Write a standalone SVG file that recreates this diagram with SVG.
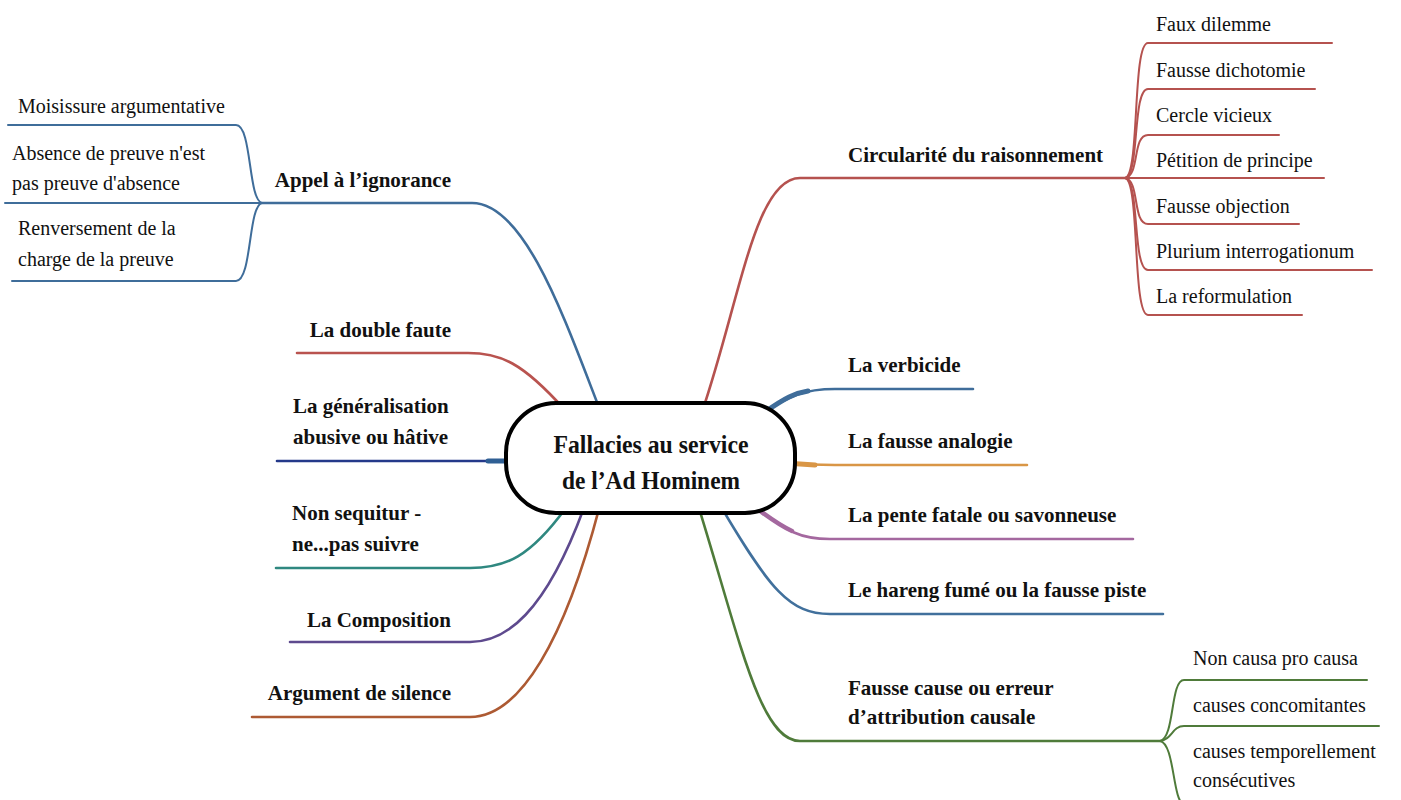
<svg xmlns="http://www.w3.org/2000/svg" width="1401" height="800" viewBox="0 0 1401 800">
<style>
.main{font-family:"Liberation Serif",serif;font-weight:bold;font-size:21px;fill:#111}
.sub{font-family:"Liberation Serif",serif;font-size:20px;fill:#111}
.ctr{font-family:"Liberation Serif",serif;font-weight:bold;font-size:26px;fill:#111}
.c{fill:none;stroke-linecap:round}
.m{stroke-width:2.6}
.s{stroke-width:2}
</style>
<rect width="1401" height="800" fill="#fff"/>
<g id="connectors">
<!-- left -->
<path class="c m" stroke="#3f6d9a" d="M600,410 C565,320 525,203 472,203 L262,203"/>
<path class="c s" stroke="#3f6d9a" d="M262,203 C248,200 252,125 236,125 L8,125"/>
<path class="c s" stroke="#3f6d9a" d="M262,203 L5,203"/>
<path class="c s" stroke="#3f6d9a" d="M262,203 C248,206 252,281 236,281 L12,281"/>
<path class="c m" stroke="#b9534f" d="M565,410 C522,362 500,353 468,353 L297,353"/>
<path class="c m" stroke="#24398a" d="M520,461 L277,461"/>
<path class="c" stroke="#2f5f94" stroke-width="5" d="M515,461 L488,461"/>
<path class="c m" stroke="#2f8880" d="M568,505 C530,558 505,568 470,568 L276,568"/>
<path class="c m" stroke="#5e4a8e" d="M585,505 C545,615 505,642 470,642 L290,642"/>
<path class="c m" stroke="#ad5a33" d="M600,505 C565,640 520,717 470,717 L252,717"/>
<!-- right -->
<path class="c m" stroke="#b5524f" d="M702,412 C740,300 755,178 800,178 L1125,178"/>
<path class="c s" stroke="#b5524f" d="M1125,178 C1140,176 1132,43 1148,43 L1332,43"/>
<path class="c s" stroke="#b5524f" d="M1125,178 C1140,176 1132,89 1148,89 L1315,89"/>
<path class="c s" stroke="#b5524f" d="M1125,178 C1140,176 1132,135 1148,135 L1279,135"/>
<path class="c s" stroke="#b5524f" d="M1125,178 L1324,178"/>
<path class="c s" stroke="#b5524f" d="M1125,178 C1140,180 1132,224 1148,224 L1299,224"/>
<path class="c s" stroke="#b5524f" d="M1125,178 C1140,180 1132,270 1148,270 L1372,270"/>
<path class="c s" stroke="#b5524f" d="M1125,178 C1140,180 1132,315 1148,315 L1302,315"/>
<path class="c m" stroke="#3f6d9a" d="M760,415 C790,395 805,389 835,389 L973,389"/>
<path class="c" stroke="#3f6d9a" stroke-width="5" d="M765,412 C785,398 795,393 808,391"/>
<path class="c m" stroke="#d99646" d="M785,463 C810,465 820,465 835,465 L1027,465"/>
<path class="c" stroke="#d99646" stroke-width="5" d="M785,463 L815,465"/>
<path class="c m" stroke="#a4689f" d="M752,505 C790,533 800,539 830,539 L1133,539"/>
<path class="c" stroke="#a4689f" stroke-width="4.5" d="M756,508 C770,518 780,526 792,531"/>
<path class="c m" stroke="#41709c" d="M720,505 C770,590 790,614 830,614 L1163,614"/>
<path class="c m" stroke="#4f7b3a" d="M698,505 C740,640 760,741 800,741 L1160,741"/>
<path class="c s" stroke="#4f7b3a" d="M1160,741 C1175,738 1170,680 1184,680 L1367,680"/>
<path class="c s" stroke="#4f7b3a" d="M1160,741 C1172,740 1172,726 1184,726 L1379,726"/>
<path class="c s" stroke="#4f7b3a" d="M1160,741 C1175,744 1172,800 1184,805"/>
</g>
<g id="center">
<rect x="506" y="403" width="289" height="110" rx="50" ry="50" fill="#fff" stroke="#000" stroke-width="4"/>
<text class="ctr" x="651" y="453" text-anchor="middle" textLength="195" lengthAdjust="spacingAndGlyphs">Fallacies au service</text>
<text class="ctr" x="651" y="489" text-anchor="middle" textLength="178" lengthAdjust="spacingAndGlyphs">de l’Ad Hominem</text>
</g>
<g id="appel">
<text class="main" x="451" y="187" text-anchor="end">Appel à l’ignorance</text>
</g>
<g id="moisissure"><text class="sub" x="18" y="113">Moisissure argumentative</text></g>
<g id="absence"><text class="sub" x="12" y="160">Absence de preuve n'est</text><text class="sub" x="12" y="190">pas preuve d'absence</text></g>
<g id="renversement"><text class="sub" x="18" y="235">Renversement de la</text><text class="sub" x="18" y="266">charge de la preuve</text></g>
<g id="double"><text class="main" x="451" y="337" text-anchor="end">La double faute</text></g>
<g id="generalisation"><text class="main" x="293" y="413">La généralisation</text><text class="main" x="293" y="444">abusive ou hâtive</text></g>
<g id="sequitur"><text class="main" x="292" y="520">Non sequitur -</text><text class="main" x="292" y="551">ne...pas suivre</text></g>
<g id="composition"><text class="main" x="451" y="627" text-anchor="end">La Composition</text></g>
<g id="silence"><text class="main" x="451" y="700" text-anchor="end">Argument de silence</text></g>
<g id="circularite"><text class="main" x="848" y="162">Circularité du raisonnement</text></g>
<g id="faux-dilemme"><text class="sub" x="1156" y="31">Faux dilemme</text></g>
<g id="fausse-dichotomie"><text class="sub" x="1156" y="77">Fausse dichotomie</text></g>
<g id="cercle"><text class="sub" x="1156" y="122">Cercle vicieux</text></g>
<g id="petition"><text class="sub" x="1156" y="167">Pétition de principe</text></g>
<g id="objection"><text class="sub" x="1156" y="213">Fausse objection</text></g>
<g id="plurium"><text class="sub" x="1156" y="258">Plurium interrogationum</text></g>
<g id="reformulation"><text class="sub" x="1156" y="303">La reformulation</text></g>
<g id="verbicide"><text class="main" x="848" y="372">La verbicide</text></g>
<g id="analogie"><text class="main" x="848" y="448">La fausse analogie</text></g>
<g id="pente"><text class="main" x="848" y="522">La pente fatale ou savonneuse</text></g>
<g id="hareng"><text class="main" x="848" y="597">Le hareng fumé ou la fausse piste</text></g>
<g id="fausse-cause"><text class="main" x="848" y="695">Fausse cause ou erreur</text><text class="main" x="848" y="724">d’attribution causale</text></g>
<g id="non-causa"><text class="sub" x="1193" y="665">Non causa pro causa</text></g>
<g id="concomitantes"><text class="sub" x="1193" y="712">causes concomitantes</text></g>
<g id="temporellement"><text class="sub" x="1193" y="758">causes temporellement</text><text class="sub" x="1193" y="787">consécutives</text></g>
</svg>
